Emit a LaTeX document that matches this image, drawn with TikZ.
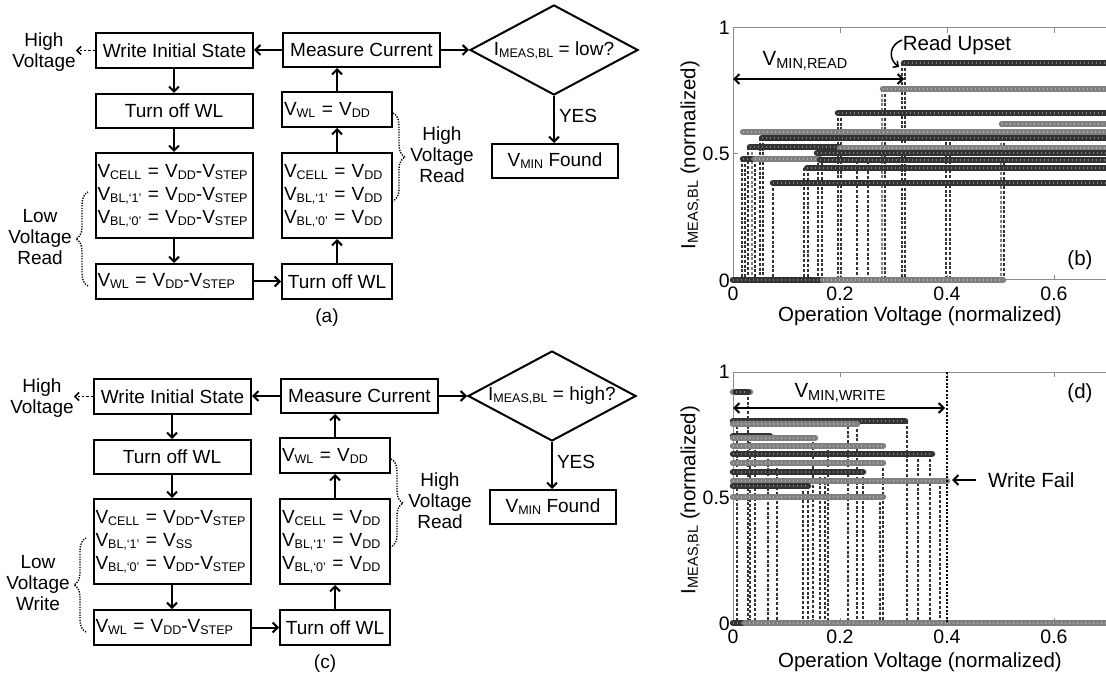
\documentclass[tikz,border=0pt]{standalone}
\usepackage{fontspec}
\setmainfont{Liberation Sans}
\usetikzlibrary{arrows.meta,shapes.geometric,decorations.pathreplacing}
\definecolor{dk}{gray}{0.2}
\definecolor{lt}{gray}{0.5}
\definecolor{axc}{gray}{0.55}
\newcommand{\lsub}[1]{\raisebox{-2pt}{\fontsize{12.5}{13}\selectfont #1}}
\newcommand{\psub}[1]{\raisebox{-2.5pt}{\fontsize{14.5}{15}\selectfont #1}}
\tikzset{
  fc/.style={font=\fontsize{19}{23}\selectfont},
  box/.style={draw, line width=2pt, fc, inner xsep=2pt, inner ysep=0pt, rectangle},
  lbox/.style={box, align=left},
  dia/.style={draw, diamond, aspect=1.87, line width=2pt, minimum width=168pt, minimum height=90pt, inner sep=0pt, fc},
  lab/.style={font=\fontsize{19}{21}\selectfont, align=center, inner sep=0pt},
  arr/.style={line width=2pt, -{Straight Barb[length=5pt,width=10pt]}},
  darr/.style={line width=1.6pt, dash pattern=on 2.5pt off 1.8pt, -{Straight Barb[length=4pt,width=8pt]}},
  brc/.style={decorate, decoration={brace, amplitude=12pt}, line width=1.4pt, dash pattern=on 1.3pt off 1.3pt},
  ptxt/.style={font=\fontsize{20.5}{22}\selectfont, inner sep=0pt},
  tick/.style={font=\fontsize{19.5}{21}\selectfont, inner sep=0pt},
  axl/.style={draw=axc, line width=1pt},
  mk/.style={line width=6.5pt, line cap=round, draw=#1},
  spk/.style={line width=1.2pt, draw=white, opacity=0.35, dash pattern=on 0.8pt off 3.2pt},
  vd/.style={draw=#1, line width=1.1pt, dash pattern=on 3pt off 1.8pt},
  parr/.style={line width=2pt, {Straight Barb[length=5pt,width=10pt]}-{Straight Barb[length=5pt,width=10pt]}},
}
\newcommand{\flowchart}[6]{%
 \begin{scope}[shift={#1}, name prefix=#2-]
  \node[box, minimum width=157pt, minimum height=35pt] (wis) at (174.5,50.5) {Write Initial State};
  \node[box, minimum width=157pt, minimum height=34pt] (mc) at (361.5,50) {Measure Current};
  \node[box, minimum width=157pt, minimum height=34pt] (tol) at (174,111) {Turn off WL};
  \node[lbox, text width=106pt, minimum height=35pt] (vdd) at (337,109.5) {V\lsub{WL} = V\lsub{DD}};
  \node[lbox, text width=153pt, minimum height=85pt] (cl) at (174,195.5) {\mbox{V\lsub{CELL} = V\lsub{DD}-V\lsub{STEP}}\\ \mbox{#4}\\ \mbox{V\lsub{BL,‘0’} = V\lsub{DD}-V\lsub{STEP}}};
  \node[lbox, text width=106pt, minimum height=85pt] (cr) at (337,195.5) {V\lsub{CELL} = V\lsub{DD}\\ V\lsub{BL,‘1’} = V\lsub{DD}\\ V\lsub{BL,‘0’} = V\lsub{DD}};
  \node[lbox, text width=153pt, minimum height=35pt] (vst) at (174,281.5) {\mbox{V\lsub{WL} = V\lsub{DD}-V\lsub{STEP}}};
  \node[box, minimum width=110pt, minimum height=35pt] (tor) at (337,281.5) {Turn off WL};
  \node[dia] (dm) at (554,50) {I\lsub{MEAS,BL} = #3};
  \node[box, minimum width=126pt, minimum height=34pt] (vmin) at (555,161) {V\lsub{MIN} Found};
  \node[lab] (hv) at (44,52) {High\\Voltage};
  \node[lab] (lv) at (40,237) {Low\\Voltage\\#5};
  \node[lab] (hr) at (442,155) {High\\Voltage\\Read};
  \node[fc, inner sep=0pt] (cap) at (327,318) {(#6)};
  \coordinate (lbt) at (88,192);
  \coordinate (lbb) at (88,286);
  \coordinate (rbt) at (393,113);
  \coordinate (rbb) at (393,201);
  \draw[arr] (mc.west) -- (mc.west -| wis.east);
  \draw[arr] (wis.south -| tol.north) -- (tol.north);
  \draw[arr] (tol) -- (cl);
  \draw[arr] (cl) -- (vst);
  \draw[arr] (vst) -- (tor);
  \draw[arr] (tor) -- (cr);
  \draw[arr] (cr) -- (vdd);
  \draw[arr] (vdd.north) -- (vdd.north |- mc.south);
  \draw[arr] (mc) -- (dm);
  \draw[arr] (dm.south) -- node[lab, anchor=west, pos=0.42, xshift=4pt] (yes) {YES} (dm.south |- vmin.north);
  \draw[darr] (wis.west) -- (wis.west -| hv.east);
  \draw[brc] (lbb) -- (lbt);
  \draw[brc] (rbt) -- (rbb);
 \end{scope}}
\begin{document}
\begin{tikzpicture}[x=1pt,y=-1pt]
\useasboundingbox (0,0) rectangle (1106,676);
\fill[white] (0,0) rectangle (1106,676);

\flowchart{(0,0)}{a}{low?}{V\lsub{BL,‘1’} = V\lsub{DD}-V\lsub{STEP}}{Read}{a}
\flowchart{(-2,346)}{c}{high?}{V\lsub{BL,‘1’} = V\lsub{SS}}{Write}{c}

% ---------------- plot (b)
\draw[axl] (1106,28) -- (733,28) -- (733,280) -- (1106,280);
\foreach \x in {840,947,1054} {\draw[axl] (\x,28) -- (\x,33); \draw[axl] (\x,280) -- (\x,275);}
\draw[axl] (733,154) -- (738,154);
\foreach \x/\y/\c in {742/159/dk,745/159/dk,748/147/dk,752/147/lt,755/159/dk,760/138/dk,763/138/dk,773/183/dk,804/168/dk,808/168/dk,818/153/dk,822/153/dk,838/113/dk,841/113/dk,857/147/dk,868/147/dk,882/89/lt,885/89/dk,902/63/dk,905/63/dk,946/132/dk,950/132/dk,1001/124/lt,1004/124/dk}
  \draw[vd=\c] (\x,\y) -- (\x,280);
\foreach \a/\b/\y/\c in {904/1110/63/dk,883/1110/89/lt,838/1110/113/dk,1002/1110/124/lt,743/1110/132/lt,762/1110/138/dk,750/840/147/dk,840/1110/148/lt,817/1110/153/dk,743/755/159/dk,755/820/159/lt,820/1110/160/dk,807/1110/168/dk,773/1110/183/dk,733/823/280/dk,823/1003/280/lt}
  {\draw[mk=\c] (\a,\y) -- (\b,\y); \draw[spk] (\a,\y) -- (\b,\y);}
\node[tick, anchor=east] (by1) at (730,28) {1};
\node[tick, anchor=east] (by5) at (730,154) {0.5};
\node[tick, anchor=east] (by0) at (730,281) {0};
\node[tick] (bx0) at (733,294) {0};
\node[tick] (bx2) at (840,294) {0.2};
\node[tick] (bx4) at (947,294) {0.4};
\node[tick] (bx6) at (1054,294) {0.6};
\node[ptxt] (bxl) at (920,316) {Operation Voltage (normalized)};
\node[ptxt, rotate=90] (byl) at (690,155) {I\psub{MEAS,BL} (normalized)};
\node[ptxt] (blab) at (1080,260) {(b)};
\node[ptxt] (vmr) at (805,61) {V\psub{MIN,READ}};
\coordinate (vmrl) at (733,79);
\coordinate (vmrr) at (904,79);
\draw[parr] (vmrl) -- (vmrr);
\node[ptxt] (rup) at (957,45) {Read Upset};
\coordinate (rups) at (902,40);
\coordinate (rupe) at (899,67);
\draw[line width=1.5pt, -{Straight Barb[length=4pt,width=8pt]}] (rups) .. controls (889,45) and (888,59) .. (rupe);

% ---------------- plot (d)
\draw[axl] (1106,372) -- (733,372) -- (733,623) -- (1106,623);
\foreach \x in {840,947,1054} {\draw[axl] (\x,372) -- (\x,377); \draw[axl] (\x,623) -- (\x,618);}
\draw[axl] (733,497.5) -- (738,497.5);
\foreach \x/\y/\c in {737/421/dk,748/392/dk,750/437/dk,755/445/dk,768/454/dk,777/463/dk,803/486/dk,808/486/dk,813/437/dk,820/472/dk,825/472/dk,828/445/dk,848/421/dk,857/424/dk,863/472/dk,880/497/dk,883/463/dk,907/421/dk,918/454/dk,930/454/dk,940/481/dk}
  \draw[vd=\c] (\x,\y) -- (\x,623);
\foreach \a/\b/\y/\c in {733/750/392/lt,736/748/392/dk,733/905/421/dk,733/857/424/lt,733/770/436/dk,733/815/438/lt,733/883/446/lt,733/932/454/dk,733/883/463/lt,733/863/472/dk,733/947/481/lt,733/808/486/dk,733/883/497/lt,733/745/623/dk,745/1110/623/lt}
  {\draw[mk=\c] (\a,\y) -- (\b,\y); \draw[spk] (\a,\y) -- (\b,\y);}
\draw[black, line width=1.8pt, dash pattern=on 2pt off 1.6pt] (947,372) -- (947,623);
\node[tick, anchor=east] (dy1) at (730,372) {1};
\node[tick, anchor=east] (dy5) at (730,497.5) {0.5};
\node[tick, anchor=east] (dy0) at (730,624) {0};
\node[tick] (dx0) at (733,637) {0};
\node[tick] (dx2) at (840,637) {0.2};
\node[tick] (dx4) at (947,637) {0.4};
\node[tick] (dx6) at (1054,637) {0.6};
\node[ptxt] (dxl) at (920,662) {Operation Voltage (normalized)};
\node[ptxt, rotate=90] (dyl) at (690,500) {I\psub{MEAS,BL} (normalized)};
\node[ptxt] (dlab) at (1080,393) {(d)};
\node[ptxt] (vmw) at (840,393) {V\psub{MIN,WRITE}};
\coordinate (vmwl) at (733,408);
\coordinate (vmwr) at (945,408);
\draw[parr] (vmwl) -- (vmwr);
\node[ptxt, anchor=west] (wf) at (988,480) {Write Fail};
\coordinate (wft) at (952,480);
\draw[line width=2pt, -{Straight Barb[length=5pt,width=10pt]}] ([xshift=-12pt]wf.west) -- (wft);
\end{tikzpicture}
\end{document}
